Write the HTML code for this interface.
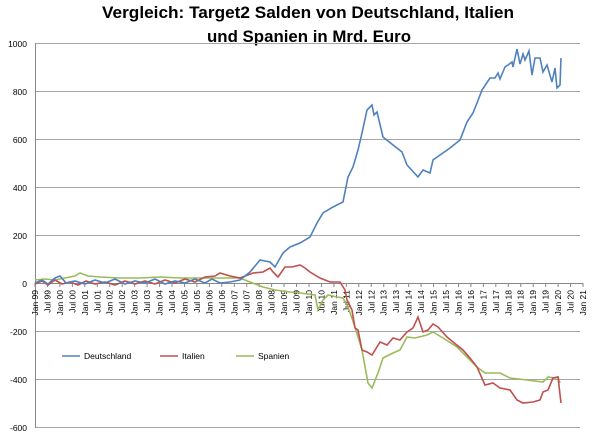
<!DOCTYPE html>
<html><head><meta charset="utf-8"><style>
body{margin:0;background:#fff}
svg{display:block}
text{font-family:"Liberation Sans",Arial,sans-serif}
</style></head><body>
<svg width="600" height="437" viewBox="0 0 600 437" xmlns="http://www.w3.org/2000/svg">
<rect width="600" height="437" fill="#fff"/>
<text x="308" y="18" text-anchor="middle" font-size="17" font-weight="bold" textLength="412" lengthAdjust="spacingAndGlyphs">Vergleich: Target2 Salden von Deutschland, Italien</text>
<text x="309" y="42" text-anchor="middle" font-size="17" font-weight="bold" textLength="204" lengthAdjust="spacingAndGlyphs">und Spanien in Mrd. Euro</text>
<g stroke="#a6a6a6" stroke-width="1">
<line x1="35" y1="43.5" x2="580" y2="43.5"/>
<line x1="35" y1="91.5" x2="580" y2="91.5"/>
<line x1="35" y1="139.5" x2="580" y2="139.5"/>
<line x1="35" y1="187.5" x2="580" y2="187.5"/>
<line x1="35" y1="235.5" x2="580" y2="235.5"/>
<line x1="35" y1="331.5" x2="580" y2="331.5"/>
<line x1="35" y1="379.5" x2="580" y2="379.5"/>
<line x1="35" y1="427.5" x2="580" y2="427.5"/>
</g>
<line x1="35.5" y1="43" x2="35.5" y2="428" stroke="#888"/>
<line x1="35" y1="283.5" x2="583" y2="283.5" stroke="#888"/>
<g font-size="8.5" text-anchor="end" fill="#000">
<text x="27" y="47">1000</text><text x="27" y="95">800</text><text x="27" y="143">600</text>
<text x="27" y="191">400</text><text x="27" y="239">200</text><text x="27" y="287">0</text>
<text x="27" y="335">-200</text><text x="27" y="383">-400</text><text x="27" y="431">-600</text>
</g>
<g id="ticks" stroke="#888"></g>
<g id="lbl" font-size="8.5" fill="#000"></g>
<polyline fill="none" stroke="#9bbb59" stroke-width="1.6" points="35,280 45,279 55,280 65,278 75,276 80,273 88,276 100,277 120,278 140,278 160,277 180,278 200,278 220,278 240,278 250,282 263,287 275,290 290,292 300,293 315,295 318,310 323,300 328,295 337,297 343,298 348,307 355,327 362,350 368,383 372,388 378,373 383,358 393,353 400,350 407,337 415,338 427,335 433,332 443,338 457,347 467,357 477,367 485,373 500,373 510,378 527,380 543,382 548,377 555,378 558,377 560,383"/>
<polyline fill="none" stroke="#c0504d" stroke-width="1.6" points="35,284 42,281 48,285 55,280 62,284 70,282 78,285 86,281 95,284 105,282 115,285 125,281 135,284 145,281 155,284 165,280 175,283 185,279 195,282 205,277 215,276 220,273 230,276 240,278 253,273 263,272 270,268 273,272 278,277 285,267 292,267 300,265 305,268 310,272 320,278 330,282 340,282 345,290 347,300 352,310 355,328 358,330 362,350 367,352 372,355 380,342 387,345 393,338 400,340 407,332 413,328 418,317 423,332 428,330 433,324 438,327 447,337 453,342 463,350 470,358 477,367 485,385 493,383 500,388 510,390 517,400 523,403 533,402 540,400 543,392 548,390 553,378 558,377 561,403"/>
<polyline fill="none" stroke="#4f81bd" stroke-width="1.6" points="35,283 42,280 48,284 55,278 60,276 66,283 75,281 85,284 95,280 105,283 115,279 125,284 135,281 145,283 155,279 165,284 175,281 185,283 195,279 205,283 212,279 220,283 230,282 240,280 250,272 260,260 270,262 275,267 283,253 290,247 300,243 310,237 317,223 323,213 333,207 343,202 348,177 353,167 358,150 362,133 367,110 372,105 374,115 377,112 383,137 393,145 402,152 407,165 418,177 423,170 430,173 433,160 440,155 450,148 460,140 467,122 473,113 477,103 482,90 490,78 495,78 498,73 500,79 505,67 508,65 512,62 513,67 517,49 520,64 523,54 525,60 529,51 532,75 535,58 540,58 543,72 547,65 552,82 555,68 557,88 560,85 561,58"/>
<g font-size="8.5">
<line x1="62" y1="356" x2="80" y2="356" stroke="#4f81bd" stroke-width="1.6"/><text x="84" y="359">Deutschland</text>
<line x1="160" y1="356" x2="178" y2="356" stroke="#c0504d" stroke-width="1.6"/><text x="182" y="359">Italien</text>
<line x1="236" y1="356" x2="254" y2="356" stroke="#9bbb59" stroke-width="1.6"/><text x="258" y="359">Spanien</text>
</g>
<script>
var t=document.getElementById('ticks'),l=document.getElementById('lbl'),ns='http://www.w3.org/2000/svg';
for(var i=0;i<=44;i++){var x=35+i*548/44;
var ln=document.createElementNS(ns,'line');ln.setAttribute('x1',x);ln.setAttribute('x2',x);ln.setAttribute('y1',283);ln.setAttribute('y2',287);t.appendChild(ln);
var y=(99+Math.floor(i/2))%100;var s=(i%2?'Jul ':'Jan ')+(y<10?'0'+y:y);
var tx=document.createElementNS(ns,'text');tx.setAttribute('transform','translate('+(x+3)+',290) rotate(-90)');tx.setAttribute('text-anchor','end');tx.textContent=s;l.appendChild(tx);}
</script>
</svg>
</body></html>
